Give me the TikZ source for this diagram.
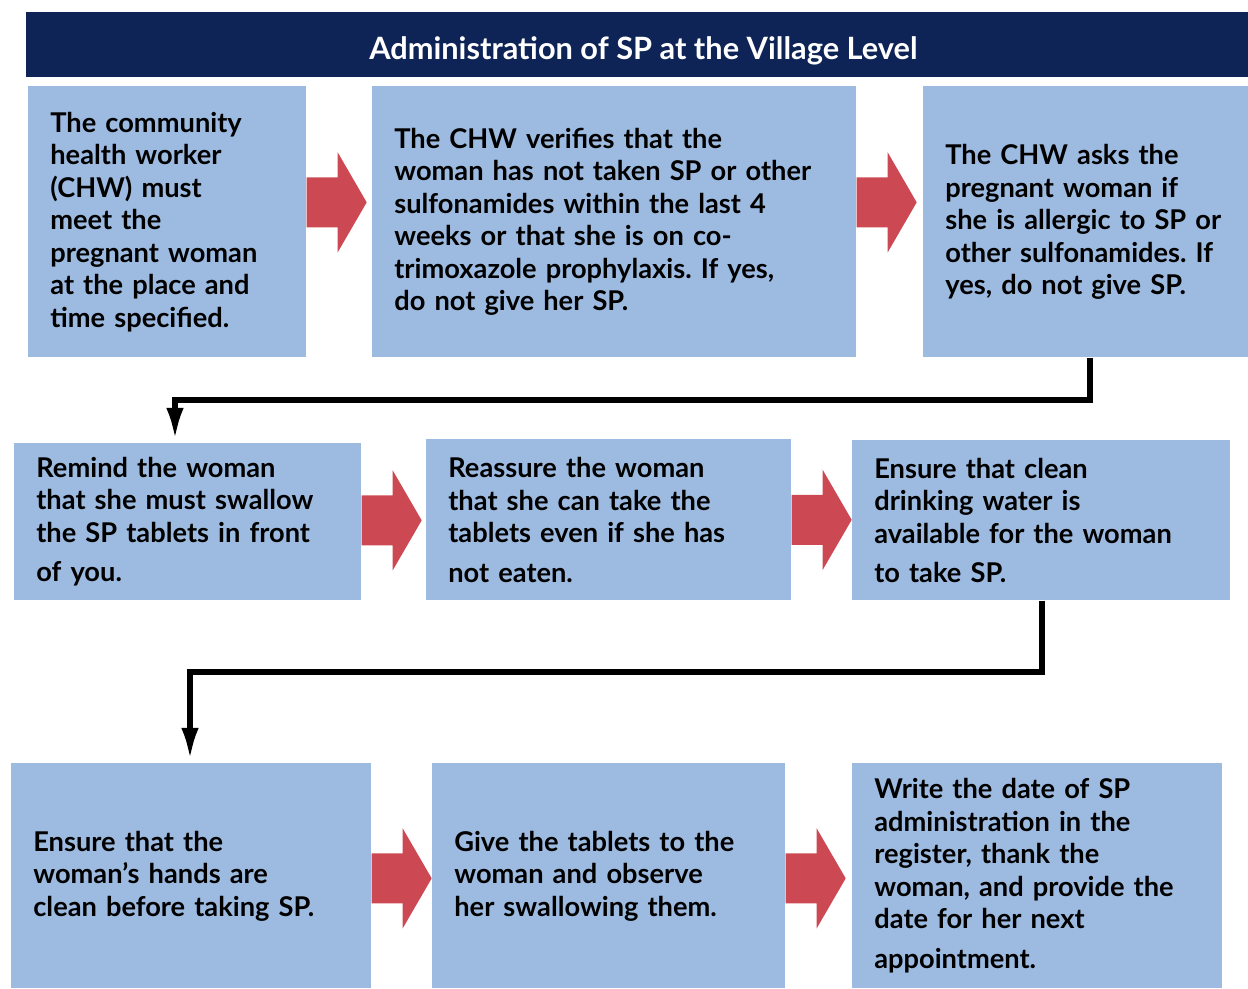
\documentclass[tikz,border=0pt]{standalone}
\usepackage{fontspec}
\setsansfont{Lato}
\usepackage{tikz}
\usetikzlibrary{arrows.meta,calc}
\definecolor{navy}{RGB}{14, 36, 86}
\definecolor{skyblue}{RGB}{157, 187, 225}
\definecolor{brickred}{RGB}{204, 73, 84}
\frenchspacing

% red block arrow, tail centred on the given point:
\newcommand{\blockarrow}[1]{%
    \fill[brickred] (#1) ++(0,0.50) -- ++(0.62,0) -- ++(0,0.50) -- ++(0.58,-1.00)
                    -- ++(-0.58,-1.00) -- ++(0,0.50) -- ++(-0.62,0) -- cycle;}

\tikzset{
    header/.style  = {fill=navy, text=white, anchor=north west, inner sep=0pt,
                      minimum width=24.44cm, minimum height=1.30cm,
                      text height=0.67cm, text depth=0.10cm,
                      font=\fontsize{17.5}{20}\selectfont\sffamily\bfseries},
    stepbox/.style = {fill=skyblue, text=black, anchor=north west, align=left,
                      inner xsep=0.44cm, inner ysep=0pt,
                      font=\fontsize{15.5}{18.5}\selectfont\sffamily\bfseries},
    flowline/.style= {line width=3pt, shorten >=2pt, -{Latex[length=18pt,width=10pt]}}
}

\begin{document}
\begin{tikzpicture}
            % Frame to ensure alignment:
            \useasboundingbox (0,0) rectangle (24.96,-19.76);
            \node[header] (title) at (0.52,-0.24)
                 {\hspace{0.24cm}Administration of SP at the Village Level};

            % first row
            \node[stepbox, text width=4.68cm, minimum height=5.42cm] (b1) at ( 0.56,-1.72)
                 {The community\\ health worker\\ (CHW) must\\ meet the\\ pregnant woman\\ at the place and\\ time specified.};
            \node[stepbox, text width=8.80cm, minimum height=5.42cm] (b2) at ( 7.44,-1.72)
                 {The CHW verifies that the\\ woman has not taken SP or other\\ sulfonamides within the last 4\\ weeks or that she is on co-\\ trimoxazole prophylaxis. If yes,\\ do not give her SP.};
            \node[stepbox, text width=5.62cm, minimum height=5.42cm] (b3) at (18.46,-1.72)
                 {The CHW asks the\\ pregnant woman if\\ she is allergic to SP or\\ other sulfonamides. If\\ yes, do not give SP.};

            % second row
            \node[stepbox, text width=6.06cm, minimum height=3.14cm] (b4) at ( 0.28,-8.86)
                 {Remind the woman\\ that she must swallow\\ the SP tablets in front\\[4pt] of you.};
            \node[stepbox, text width=6.42cm, minimum height=3.22cm] (b5) at ( 8.52,-8.78)
                 {Reassure the woman\\ that she can take the\\ tablets even if she has\\[4pt] not eaten.};
            \node[stepbox, text width=6.68cm, minimum height=3.20cm] (b6) at (17.04,-8.80)
                 {Ensure that clean\\ drinking water is\\ available for the woman\\[4pt] to take SP.};

            % third row
            \node[stepbox, text width=6.32cm, minimum height=4.50cm] (b7) at ( 0.22,-15.26)
                 {Ensure that the\\ woman's hands are\\ clean before taking SP.};
            \node[stepbox, text width=6.18cm, minimum height=4.50cm] (b8) at ( 8.64,-15.26)
                 {Give the tablets to the\\ woman and observe\\ her swallowing them.};
            \node[stepbox, text width=6.52cm, minimum height=4.50cm] (b9) at (17.04,-15.26)
                 {Write the date of SP\\ administration in the\\ register, thank the\\ woman, and provide the\\ date for her next\\[4pt] appointment.};

            % red arrows between the steps
            \blockarrow{$(b1.east)+(0, 0.39)$}
            \blockarrow{$(b2.east)+(0, 0.39)$}
            \blockarrow{$(b4.east)+(0, 0.03)$}
            \blockarrow{$(b5.east)+(0, 0.00)$}
            \blockarrow{$(b7.east)+(0,-0.05)$}
            \blockarrow{$(b8.east)+(0,-0.05)$}

            % row to row connectors
            \coordinate (k1) at (21.80, -8.00);
            \coordinate (k2) at ( 3.50, -8.00);
            \draw[flowline] (b3.south -| k1) -- (k1) -- (k2) -- (b4.north -| k2);
            \coordinate (k3) at (20.84,-13.44);
            \coordinate (k4) at ( 3.80,-13.44);
            \draw[flowline] (b6.south -| k3) -- (k3) -- (k4) -- (b7.north -| k4);
        \end{tikzpicture}
\end{document}
